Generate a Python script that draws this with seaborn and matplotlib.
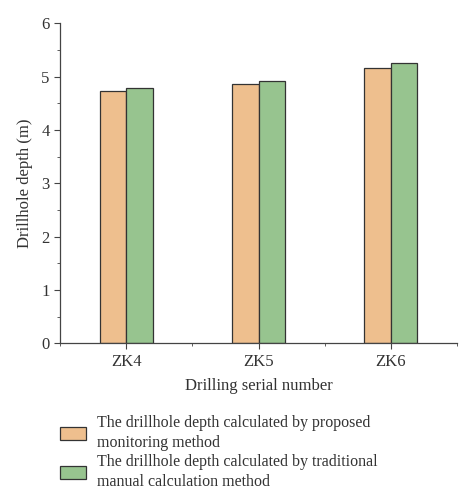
import numpy as np
import pandas as pd
import seaborn as sns
import matplotlib.pyplot as plt
from matplotlib.ticker import MultipleLocator

holes = ['ZK4', 'ZK5', 'ZK6']
proposed = [4.72, 4.86, 5.16]
traditional = [4.79, 4.925, 5.25]
methods = ['The drillhole depth calculated by proposed\nmonitoring method',
           'The drillhole depth calculated by traditional\nmanual calculation method']
colors = ['#EEBF8E', '#97C48F']

df = pd.DataFrame({'hole': holes * 2,
                   'depth': proposed + traditional,
                   'method': [methods[0]] * 3 + [methods[1]] * 3})

sns.set_style('ticks')
plt.rcParams['font.family'] = ['Liberation Serif', 'DejaVu Serif']

fig = plt.figure(figsize=(4.74, 5.04), dpi=100)
ax = fig.add_axes([0.127, 0.319, 0.837, 0.635])

sns.barplot(data=df, x='hole', y='depth', hue='method', palette=colors,
            width=0.4, gap=0, edgecolor='#333333', linewidth=0.9,
            saturation=1, ax=ax)

ax.set_xlim(-0.5, 2.5)
ax.set_ylim(0, 6)
ax.yaxis.set_major_locator(MultipleLocator(1))
ax.yaxis.set_minor_locator(MultipleLocator(0.5))
ax.xaxis.set_minor_locator(MultipleLocator(1, offset=0.5))
ax.tick_params(which='both', direction='out', color='#444444', labelsize=12,
               labelcolor='#333333')
ax.tick_params(which='major', length=4)
ax.tick_params(which='minor', length=2.5)
for s in ['top', 'right']:
    ax.spines[s].set_visible(False)
for s in ['left', 'bottom']:
    ax.spines[s].set_color('#444444')
    ax.spines[s].set_linewidth(0.9)

ax.set_xlabel('Drilling serial number', fontsize=12, color='#333333', labelpad=6)
ax.set_ylabel('Drillhole depth (m)', fontsize=12, color='#333333', labelpad=6)

leg = ax.legend(loc='upper left', bbox_to_anchor=(0.0, -0.225), frameon=False,
                fontsize=11.5, labelcolor='#333333', handlelength=1.6,
                handleheight=0.9, handletextpad=0.7, labelspacing=0.15,
                borderpad=0, borderaxespad=0)
for t in leg.get_texts():
    t.set_linespacing(1.35)

fig.savefig('out.png', dpi=100)
